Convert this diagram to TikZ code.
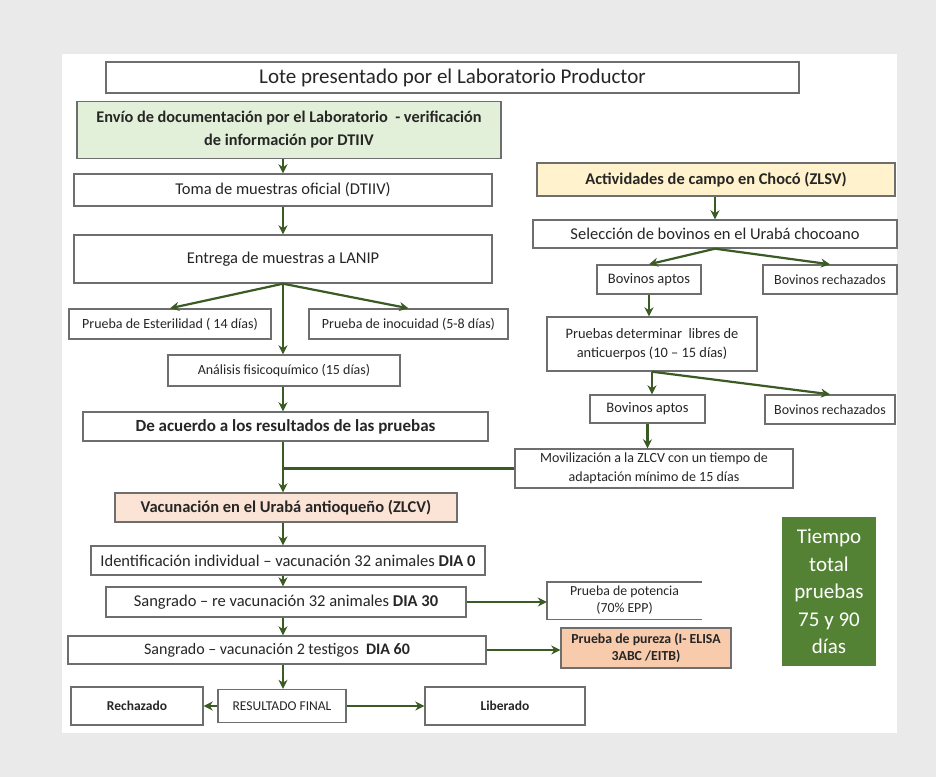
\documentclass[tikz,border=0pt]{standalone}
\usepackage{fontspec}
\setmainfont{Carlito}
\usetikzlibrary{arrows.meta}
\definecolor{bgGray}{HTML}{EAEAEA}
\definecolor{boxLine}{HTML}{6E6E6E}
\definecolor{linkGreen}{HTML}{3A5B24}
\definecolor{softGreen}{HTML}{E2EFD9}
\definecolor{softYellow}{HTML}{FFF2CC}
\definecolor{softOrange}{HTML}{FBE4D5}
\definecolor{deepOrange}{HTML}{F8CBAD}
\definecolor{darkGreen}{HTML}{548235}
\definecolor{inkGray}{HTML}{262626}
\newcommand{\fs}[2]{\fontsize{#1}{#2}\selectfont}
\begin{document}
\begin{tikzpicture}[x=1pt,y=-1pt,
  box/.style={draw=boxLine, line width=1.4pt, fill=white, inner sep=2pt,
    align=center, text=inkGray, font=\fs{16.5}{19}},
  small/.style={font=\fs{14}{18.5}},
  link/.style={draw=linkGreen, line width=2.2pt, -{Stealth[length=9pt,width=9pt]}},
  plain/.style={draw=linkGreen, line width=2.2pt}]
% canvas and white panel
\useasboundingbox (0,0) rectangle (936,777);
\fill[bgGray] (0,0) rectangle (936,777);
\fill[white] (62,54) rectangle (897,733);

% ---- left column: laboratory tests ----
\node[box, minimum width=693pt, minimum height=31pt, font=\fs{21}{24}] (lote) at (452.5,77.5)
  {Lote presentado por el Laboratorio Productor};
\node[box, fill=softGreen, minimum width=424pt, minimum height=57pt, font=\fs{16.3}{23}\bfseries] (envio) at (289,130)
  {Envío de documentación por el Laboratorio\ \ - verificación\\ de información por DTIIV};
\node[box, minimum width=418pt, minimum height=32pt] (toma) at (283,190)
  {Toma de muestras oficial (DTIIV)};
\node[box, minimum width=418pt, minimum height=48pt] (entrega) at (283,259)
  {Entrega de muestras a LANIP};
\node[box, small, minimum width=202pt, minimum height=30pt] (ester) at (170,324)
  {Prueba de Esterilidad ( 14 días)};
\node[box, small, minimum width=199pt, minimum height=30pt] (inoc) at (408.5,324)
  {Prueba de inocuidad (5-8 días)};
\node[box, small, minimum width=232pt, minimum height=31pt] (anal) at (284,370.5)
  {Análisis fisicoquímico (15 días)};
\node[box, minimum width=405pt, minimum height=29pt, font=\fs{17}{20}\bfseries] (acuerdo) at (285.5,426.5)
  {De acuerdo a los resultados de las pruebas};

% ---- field vaccination ----
\node[box, fill=softOrange, minimum width=342pt, minimum height=29pt, font=\fs{16.5}{19}\bfseries] (vacun) at (286,507.5)
  {Vacunación en el Urabá antioqueño (ZLCV)};
\node[box, minimum width=394pt, minimum height=29pt] (ident) at (288,560.5)
  {Identificación individual – vacunación 32 animales \textbf{DIA 0}};
\node[box, minimum width=360pt, minimum height=30pt] (sangre) at (286,602)
  {Sangrado – re vacunación 32 animales \textbf{DIA 30}};
\node[box, minimum width=418pt, minimum height=28pt, font=\fs{16}{19}] (sangdos) at (277,650)
  {Sangrado – vacunación 2 testigos\ \ \textbf{DIA 60}};
\node[box, minimum width=132pt, minimum height=38pt, font=\fs{13.5}{16}\bfseries] (rechaz) at (137,706)
  {Rechazado};
\node[box, minimum width=128pt, minimum height=33pt, font=\fs{13.5}{16}] (result) at (282,706)
  {RESULTADO FINAL};
\node[box, minimum width=160pt, minimum height=38pt, font=\fs{13.5}{16}\bfseries] (liber) at (505,706)
  {Liberado};

% potency test box, open on its right side
\node[text=inkGray, align=center, minimum width=155pt, minimum height=37pt, font=\fs{13.8}{17}] (potencia) at (624.5,600.5)
  {Prueba de potencia\\(70\% EPP)};
\draw[boxLine, line width=1.4pt] (potencia.north east) -- (potencia.north west)
  -- (potencia.south west) -- (potencia.south east);
\node[box, fill=deepOrange, minimum width=170pt, minimum height=40pt, font=\fs{13.8}{17}\bfseries] (pureza) at (646,648)
  {Prueba de pureza (I- ELISA\\ 3ABC /EITB)};
\node[fill=darkGreen, text=white, align=center, minimum width=94pt, minimum height=149pt,
  font=\fs{21}{27.5}] (tiempo) at (829,591.5)
  {Tiempo\\ total\\ pruebas\\ 75 y 90\\ días};

% ---- right column: field activities ----
\node[box, fill=softYellow, minimum width=358pt, minimum height=33pt, font=\fs{16.4}{19}\bfseries] (activ) at (716,179.5)
  {Actividades de campo en Chocó (ZLSV)};
\node[box, minimum width=364pt, minimum height=28pt] (selec) at (715,234)
  {Selección de bovinos en el Urabá chocoano};
\node[box, small, minimum width=104pt, minimum height=29pt, font=\fs{14.5}{17}] (apto1) at (649,279.5)
  {Bovinos aptos};
\node[box, small, minimum width=134pt, minimum height=29pt] (rech1) at (830,279.5)
  {Bovinos rechazados};
\node[box, small, minimum width=210pt, minimum height=54pt, font=\fs{14.4}{19}] (pruebas) at (652,344)
  {Pruebas determinar\ \ libres de\\ anticuerpos (10 – 15 días)};
\node[box, small, minimum width=115pt, minimum height=28pt, font=\fs{14.5}{17}] (apto2) at (647.5,409)
  {Bovinos aptos};
\node[box, small, minimum width=130pt, minimum height=29pt] (rech2) at (830,409.5)
  {Bovinos rechazados};
\node[box, small, minimum width=278pt, minimum height=39pt] (movil) at (654,468.5)
  {Movilización a la ZLCV con un tiempo de\\ adaptación mínimo de 15 días};

% ---- connectors ----
\coordinate (spine) at (283,0);
\coordinate (join) at (spine |- movil.west);
\draw[link] (envio.south -| spine) -- (toma.north -| spine);
\draw[link] (toma.south -| spine) -- (entrega.north -| spine);
\draw[link] (entrega.south -| spine) -- (ester.north);
\draw[link] (entrega.south -| spine) -- (inoc.north);
\draw[link] (entrega.south -| spine) -- (anal.north -| spine);
\draw[link] (anal.south -| spine) -- (acuerdo.north -| spine);
\draw[link] (acuerdo.south -| spine) -- (vacun.north -| spine);
\draw[plain] (movil.west) -- (join);
\draw[link] (vacun.south -| spine) -- (ident.north -| spine);
\draw[link] (ident.south -| spine) -- (sangre.north -| spine);
\draw[link] (sangre.south -| spine) -- (sangdos.north -| spine);
\draw[link] (sangdos.south -| spine) -- (result.north -| spine);
\draw[link] (result.west) -- (rechaz.east);
\draw[link] (result.east) -- (liber.west);
\draw[link] (sangre.east) -- (sangre.east -| potencia.west);
\draw[link] (sangdos.east) -- (sangdos.east -| pureza.west);

\draw[link] (activ.south -| selec.south) -- (selec.north);
\draw[link] (selec.south) -- (apto1.north);
\draw[link] (selec.south) -- (rech1.north);
\draw[link] (apto1.south) -- (apto1.south |- pruebas.north);
\draw[link] (pruebas.south) -- (pruebas.south |- apto2.north);
\draw[link] (pruebas.south) -- (rech2.north);
\draw[link] (apto2.south) -- (apto2.south |- movil.north);
\end{tikzpicture}
\end{document}
